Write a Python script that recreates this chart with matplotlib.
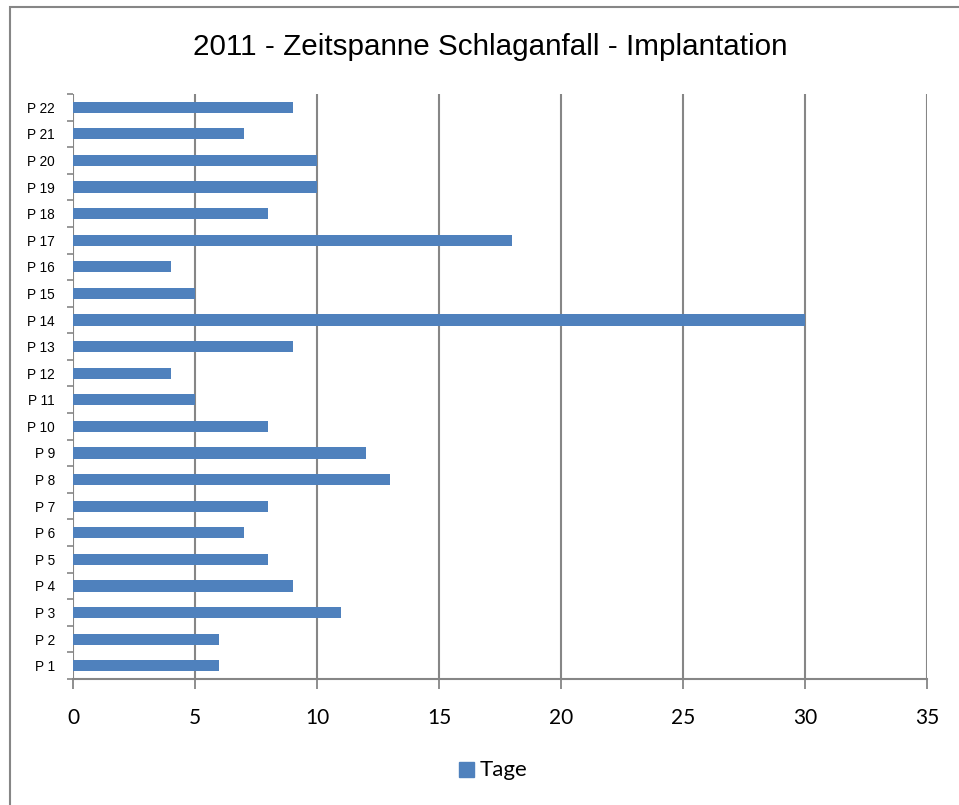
import matplotlib.pyplot as plt
from matplotlib.patches import Rectangle

patients = ['P %d' % i for i in range(1, 23)]
tage = [6, 6, 11, 9, 8, 7, 8, 13, 12, 8, 5, 4, 9, 30, 5, 4, 18, 8, 10, 10, 7, 9]
xticks = [0, 5, 10, 15, 20, 25, 30, 35]

blue = '#4F81BD'
grey = '#868686'

fig = plt.figure(figsize=(9.59, 8.05), dpi=100)
# chart border like the spreadsheet frame
fig.patches.append(Rectangle((10 / 959, -0.01), 1.2, 1 - 7 / 805 + 0.01, transform=fig.transFigure,
                             fill=False, edgecolor=grey, linewidth=1.5))

ax = fig.add_axes([73 / 959, 126 / 805, 854 / 959, 585 / 805])
pos = list(range(len(patients)))
ax.barh(pos, tage, height=0.42, color=blue, zorder=3)

ax.set_xlim(0, 35)
ax.set_ylim(-0.5, len(patients) - 0.5)
ax.set_xticks(xticks)
ax.set_xticklabels([str(v) for v in xticks], fontfamily='Lato', fontsize=15)
ax.tick_params(axis='x', length=7, width=1.3, color=grey, pad=14, direction='out')
ax.grid(axis='x', color=grey, linewidth=1.5, zorder=0)

ax.set_yticks(pos)
ax.set_yticklabels(patients, fontfamily='Liberation Sans', fontsize=9.8)
ax.set_yticks([p - 0.5 for p in range(len(patients) + 1)], minor=True)
ax.tick_params(axis='y', which='major', length=0, pad=13)
ax.tick_params(axis='y', which='minor', length=4, width=1.2, color=grey)

for s in ['top', 'right', 'left']:
    ax.spines[s].set_visible(False)
ax.spines['bottom'].set_color(grey)
ax.spines['bottom'].set_linewidth(1.5)

fig.text(490 / 959, 1 - 47 / 805, '2011 - Zeitspanne Schlaganfall - Implantation',
         ha='center', va='center', fontfamily='Liberation Sans', fontsize=21.3)

# legend
fig.patches.append(Rectangle((459 / 959, 1 - 777 / 805), 15 / 959, 15 / 805,
                             transform=fig.transFigure, color=blue))
fig.text(480 / 959, 1 - 770 / 805, 'Tage', ha='left', va='center',
         fontfamily='Lato', fontsize=16)

fig.savefig('out.png', dpi=100)
